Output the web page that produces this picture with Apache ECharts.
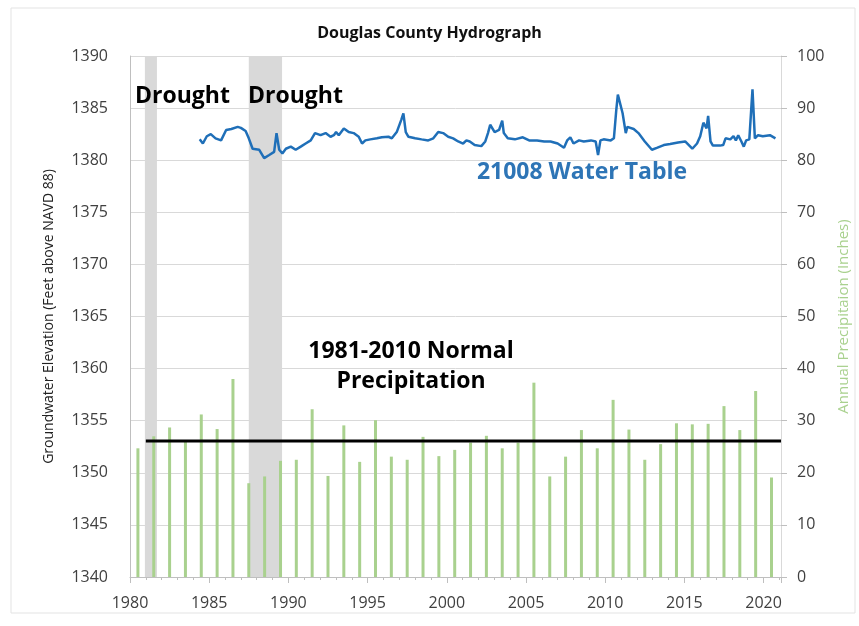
<!DOCTYPE html>
<html>
<head>
<meta charset="utf-8">
<script src="https://cdn.jsdelivr.net/npm/echarts@6/dist/echarts.min.js"></script>
<style>html,body{margin:0;padding:0;background:#fff}#c{width:859px;height:626px}</style>
</head>
<body>
<div id="c"></div>
<script>
// ---- data ----
const precipYears = [1980,1981,1982,1983,1984,1985,1986,1987,1988,1989,1990,1991,1992,1993,1994,1995,1996,1997,1998,1999,2000,2001,2002,2003,2004,2005,2006,2007,2008,2009,2010,2011,2012,2013,2014,2015,2016,2017,2018,2019,2020];
const precipInches = [24.7,27.0,28.7,26.0,31.2,28.4,38.0,18.0,19.3,22.3,22.5,32.2,19.4,29.1,22.1,30.1,23.1,22.5,26.9,23.2,24.4,25.8,27.1,24.7,25.8,37.3,19.3,23.1,28.2,24.7,34.0,28.3,22.5,25.5,29.5,29.3,29.4,32.8,28.2,35.7,19.1];
const normalPrecip = 26.1;
const normalRange = [1981, 2021.1];
const droughts = [[1980.94, 1981.7], [1987.5, 1989.6]];
const wtDates = [1984.4,1984.5,1984.6,1984.85,1985.1,1985.4,1985.75,1986.07,1986.4,1986.8,1987.0,1987.3,1987.5,
  1987.74,1988.16,1988.47,1988.79,1989.10,1989.25,1989.42,1989.62,1989.84,1990.15,1990.46,1990.78,1991.09,1991.41,1991.68,1992.03,1992.35,1992.66,1992.87,1993.01,1993.18,1993.5,1993.81,1994.12,1994.44,1994.65,1994.86,1995.17,1995.59,1995.9,1996.32,1996.53,1996.84,1997.12,1997.26,1997.41,1997.58,1998.0,1998.41,1998.83,1999.15,1999.46,1999.77,2000.09,2000.4,2000.72,2001.03,2001.24,2001.45,2001.76,2002.18,2002.43,2002.6,2002.74,2003.02,
  2003.3,2003.5,2003.6,2003.85,2004.3,2004.8,2005.2,2005.7,2006.15,2006.55,2007.0,2007.4,2007.6,2007.8,2008.0,2008.35,2008.65,2009.1,2009.4,2009.55,2009.7,2009.9,2010.35,2010.55,2010.7,2010.8,2011.1,2011.3,2011.4,2011.8,2012.1,2012.5,2012.95,2013.3,2013.7,2014.1,2014.6,2015.05,2015.5,2015.8,2016.0,2016.2,2016.4,2016.5,2016.65,2016.8,2017.25,2017.45,2017.6,2017.9,2018.1,2018.25,2018.4,2018.6,2018.75,2018.9,2019.1,2019.3,2019.45,2019.65,2019.95,2020.4,2020.75];
const wtLevels = [1382.0,1381.9,1381.6,1382.3,1382.5,1382.1,1381.9,1382.9,1383.0,1383.2,1383.1,1382.8,1382.1,
  1381.1,1381.0,1380.2,1380.5,1380.8,1382.6,1381.0,1380.65,1381.1,1381.3,1381.0,1381.3,1381.6,1381.9,1382.6,1382.4,1382.6,1382.25,1382.4,1382.7,1382.4,1383.05,1382.7,1382.6,1382.25,1381.6,1381.9,1382.0,1382.1,1382.2,1382.25,1382.1,1382.7,1383.85,1384.5,1382.7,1382.25,1382.1,1382.0,1381.9,1382.1,1382.7,1382.6,1382.25,1382.1,1381.8,1381.6,1381.9,1381.8,1381.45,1381.35,1381.8,1382.6,1383.4,1382.7,
  1382.9,1383.8,1382.6,1382.1,1382.0,1382.2,1381.9,1381.9,1381.8,1381.8,1381.6,1381.2,1381.9,1382.2,1381.6,1381.9,1381.8,1381.9,1381.8,1380.5,1381.9,1382.0,1381.9,1382.1,1384.8,1386.3,1384.5,1382.6,1383.2,1383.0,1382.6,1381.8,1381.0,1381.2,1381.45,1381.55,1381.7,1381.8,1381.1,1381.6,1382.3,1383.6,1383.05,1384.25,1381.8,1381.4,1381.4,1381.45,1382.1,1382.0,1382.3,1381.9,1382.4,1381.8,1381.3,1381.9,1382.0,1386.8,1382.1,1382.4,1382.3,1382.4,1382.1];
const leftTicks = {min: 1340, max: 1390, step: 5};
const rightTicks = {min: 0, max: 100, step: 10};
const xTicks = {min: 1980, max: 2021.1, step: 5};

// ---- chart ----
const chart = echarts.init(document.getElementById('c'));
const font = 'Open Sans';
const annFont = 'bold 23px "Open Sans"';
chart.setOption({
  animation: false,
  backgroundColor: '#fff',
  textStyle: {fontFamily: font},
  title: {
    text: 'Douglas County Hydrograph', left: 'center', top: 20,
    textStyle: {fontSize: 16, fontWeight: 'bold', color: '#111', fontFamily: font}
  },
  grid: {left: 130, right: 74, top: 56, bottom: 49},
  xAxis: {
    type: 'value', min: xTicks.min, max: xTicks.max, interval: xTicks.step,
    axisLine: {show: true, lineStyle: {color: '#bfbfbf'}},
    axisTick: {show: true, length: 6, lineStyle: {color: '#bfbfbf'}},
    minorTick: {show: true, splitNumber: 5, length: 3, lineStyle: {color: '#bfbfbf'}},
    splitLine: {show: false},
    axisLabel: {color: '#404040', fontSize: 16, margin: 18, showMaxLabel: false,
      formatter: v => (Math.abs(v % 5) < 1e-6 ? String(v) : '')}
  },
  yAxis: [{
    type: 'value', min: leftTicks.min, max: leftTicks.max, interval: leftTicks.step,
    name: 'Groundwater Elevation (Feet above NAVD 88)', nameLocation: 'middle', nameGap: 74,
    nameTextStyle: {fontSize: 14, color: '#222', fontFamily: font},
    axisLine: {show: true, lineStyle: {color: '#bfbfbf'}},
    axisTick: {show: false},
    splitLine: {show: true, lineStyle: {color: '#d9d9d9'}},
    axisLabel: {color: '#404040', fontSize: 16, margin: 22, formatter: v => String(v)}
  }, {
    type: 'value', min: rightTicks.min, max: rightTicks.max, interval: rightTicks.step,
    position: 'right',
    name: 'Annual Precipitaion (Inches)', nameLocation: 'middle', nameGap: 55, nameRotate: 90,
    nameTextStyle: {fontSize: 15, color: '#a9d18e', fontFamily: font},
    axisLine: {show: true, lineStyle: {color: '#d9d9d9'}},
    axisTick: {show: true, length: 6, lineStyle: {color: '#bfbfbf'}},
    splitLine: {show: false},
    axisLabel: {color: '#404040', fontSize: 16, margin: 16, formatter: v => String(v)}
  }],
  series: [{
    type: 'line', yAxisIndex: 1, data: [], z: 1, silent: true,
    markArea: {silent: true, itemStyle: {color: '#d9d9d9', opacity: 1},
      data: droughts.map(d => [{xAxis: d[0]}, {xAxis: d[1]}])}
  }, {
    type: 'bar', yAxisIndex: 1, barWidth: 3, z: 3,
    itemStyle: {color: '#a9d18e'},
    data: precipYears.map((y, i) => [y + 0.5, precipInches[i]])
  }, {
    type: 'line', yAxisIndex: 1, z: 4, symbol: 'none',
    lineStyle: {color: '#000', width: 3},
    data: [[normalRange[0], normalPrecip], [normalRange[1], normalPrecip]]
  }, {
    type: 'line', yAxisIndex: 0, z: 5, symbol: 'none',
    lineStyle: {color: '#1f6fb8', width: 2.5},
    data: wtDates.map((d, i) => [d, wtLevels[i]])
  }],
  graphic: [
    {type: 'rect', z: 100, shape: {x: 11, y: 8, width: 844, height: 605}, style: {fill: 'none', stroke: '#e3e3e3', lineWidth: 1}},
    {type: 'text', z: 100, x: 135, y: 96, style: {text: 'Drought', font: annFont, fill: '#000', textVerticalAlign: 'middle'}},
    {type: 'text', z: 100, x: 248, y: 96, style: {text: 'Drought', font: annFont, fill: '#000', textVerticalAlign: 'middle'}},
    {type: 'text', z: 100, x: 582, y: 172, style: {text: '21008 Water Table', font: annFont, fill: '#2e75b6', textAlign: 'center', textVerticalAlign: 'middle'}},
    {type: 'text', z: 100, x: 411, y: 351, style: {text: '1981-2010 Normal', font: annFont, fill: '#000', textAlign: 'center', textVerticalAlign: 'middle'}},
    {type: 'text', z: 100, x: 411, y: 381, style: {text: 'Precipitation', font: annFont, fill: '#000', textAlign: 'center', textVerticalAlign: 'middle'}}
  ]
});
</script>
</body>
</html>
